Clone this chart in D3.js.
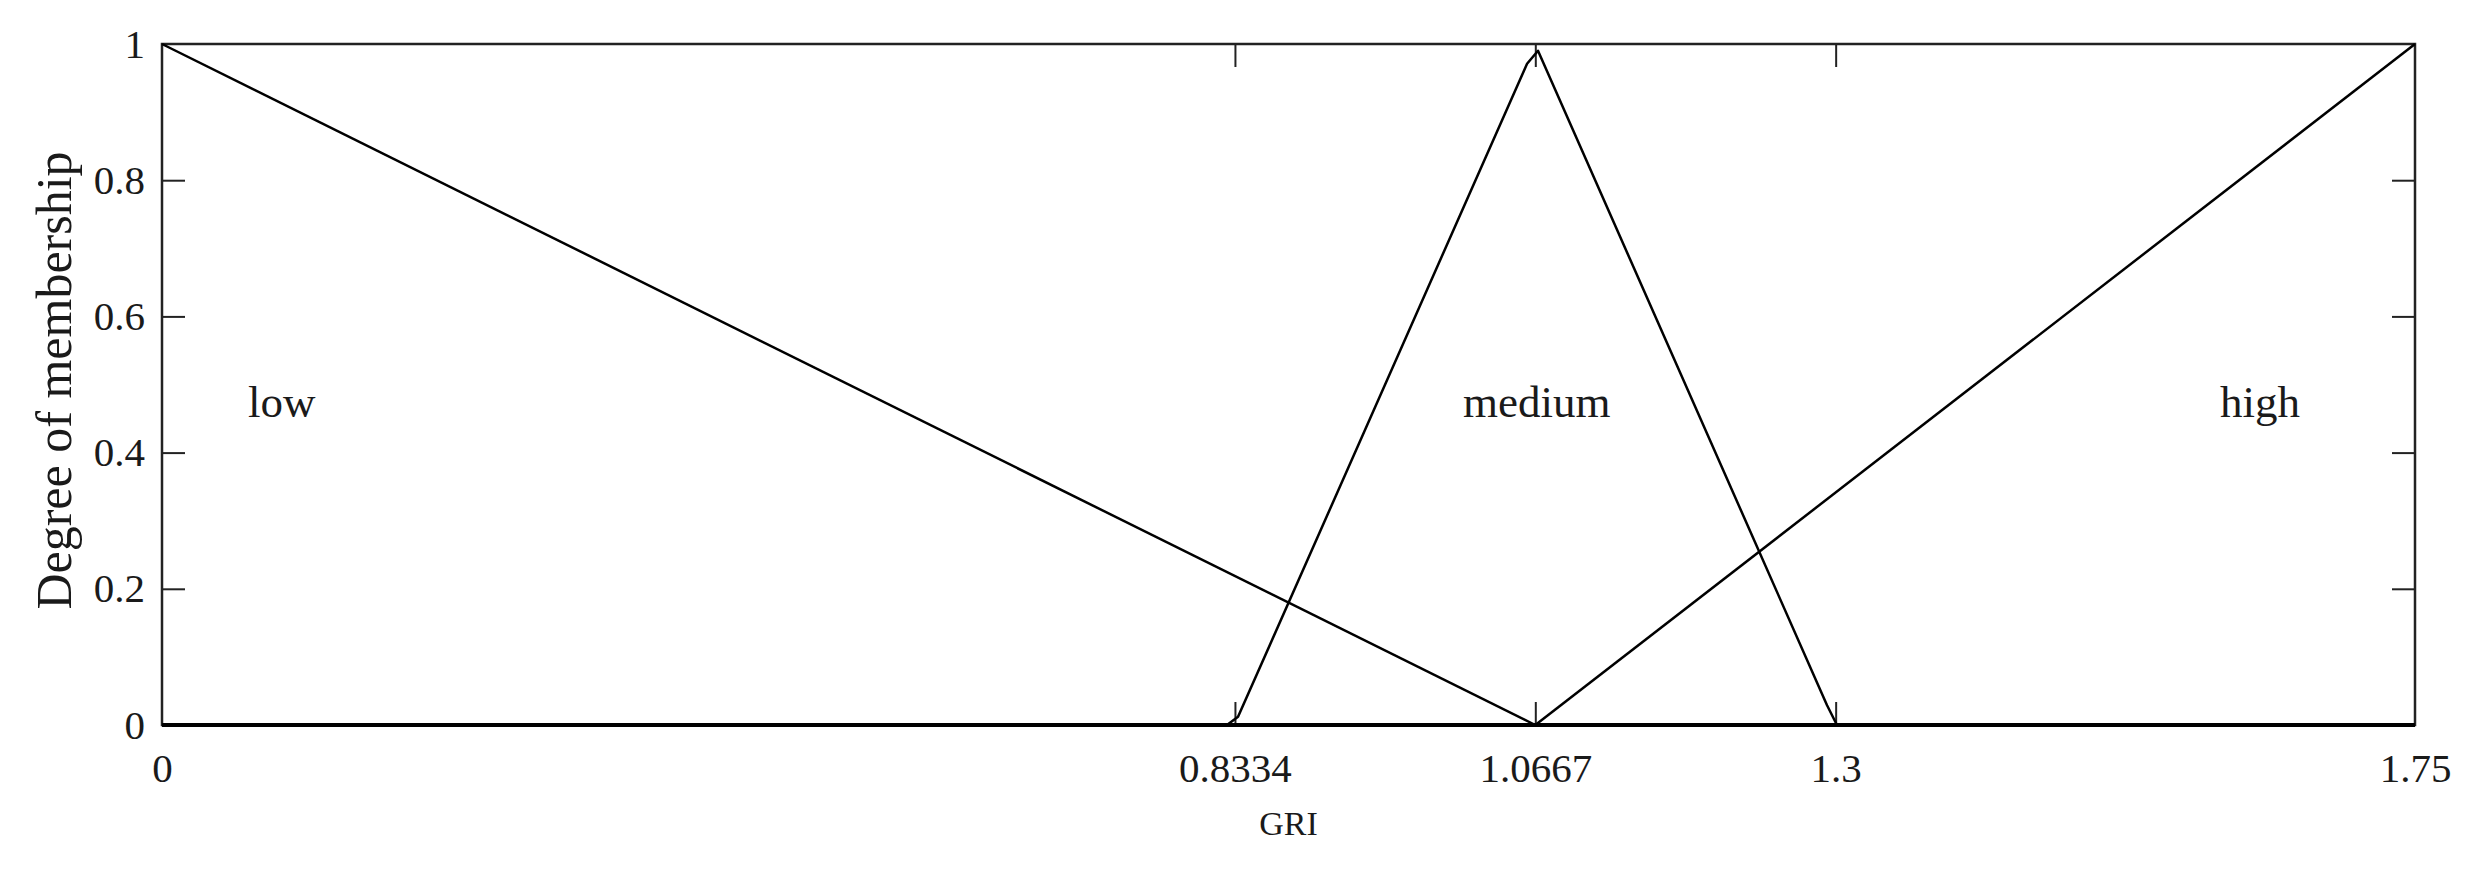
<!DOCTYPE html>
<html>
<head>
<meta charset="utf-8">
<script src="https://cdn.jsdelivr.net/npm/d3@7"></script>
<style>
  body { margin: 0; background: #fff; }
  svg text { font-family: "Liberation Serif", "Times New Roman", serif; fill: #1a1a1a; }
</style>
</head>
<body>
<div id="chart"></div>
<script>
// membership functions (x = GRI, y = degree)
var lowPts = [[0, 1], [1.0667, 0]];
var mediumPts = [[0.8272, 0], [0.8358, 0.012], [1.0603, 0.971], [1.0688, 0.99], [1.2933, 0.029], [1.301, 0]];
var highPts = [[1.0667, 0], [1.75, 1]];

var xTicks = [0, 0.8334, 1.0667, 1.3, 1.75];
var xTickLabels = ["0", "0.8334", "1.0667", "1.3", "1.75"];
var yTicks = [0, 0.2, 0.4, 0.6, 0.8, 1];
var yTickLabels = ["0", "0.2", "0.4", "0.6", "0.8", "1"];

var setNames = ["low", "medium", "high"];
var setLabelX = [0.0668, 1.0106, 1.5986]; // left edge of each label, GRI units
var setLabelY = 0.452;

var W = 2476, H = 873;
var margin = {left: 162, right: 61, top: 44, bottom: 148};
var iw = W - margin.left - margin.right,
    ih = H - margin.top - margin.bottom;

var svg = d3.select("#chart").append("svg")
  .attr("width", W).attr("height", H);

var g = svg.append("g")
  .attr("transform", "translate(" + margin.left + "," + margin.top + ")");

var x = d3.scaleLinear().domain([0, 1.75]).range([0, iw]);
var y = d3.scaleLinear().domain([0, 1]).range([ih, 0]);

var tickLen = 23;

// bottom axis: labels below, ticks pointing inward
var xAxis = d3.axisBottom(x).tickValues(xTicks)
  .tickSize(-tickLen).tickPadding(28)
  .tickFormat(function(d, i) { return xTickLabels[i]; });
var gx = g.append("g").attr("transform", "translate(0," + ih + ")").call(xAxis);
gx.select(".domain").remove();
gx.selectAll("text").style("font-size", "41px");

// left axis
var yAxis = d3.axisLeft(y).tickValues(yTicks)
  .tickSize(-tickLen).tickPadding(17)
  .tickFormat(function(d, i) { return yTickLabels[i]; });
var gy = g.append("g").call(yAxis);
gy.select(".domain").remove();
gy.selectAll("text").style("font-size", "41px");

// top and right ticks, no labels
var gt = g.append("g").call(d3.axisTop(x).tickValues(xTicks).tickSize(-tickLen).tickFormat(""));
gt.select(".domain").remove();
var gr = g.append("g").attr("transform", "translate(" + iw + ",0)")
  .call(d3.axisRight(y).tickValues(yTicks).tickSize(-tickLen).tickFormat(""));
gr.select(".domain").remove();

g.selectAll(".tick line").attr("stroke", "#222").attr("stroke-width", 2);
// skip the ticks sitting on the frame corners
g.selectAll(".tick").filter(function(d) { return d === 0 || d === 1 || d === 1.75; })
  .select("line").remove();

// frame
g.append("rect").attr("x", 0).attr("y", 0).attr("width", iw).attr("height", ih)
  .attr("fill", "none").attr("stroke", "#222").attr("stroke-width", 2.5);
g.append("line").attr("x1", 0).attr("x2", iw).attr("y1", ih).attr("y2", ih)
  .attr("stroke", "#000").attr("stroke-width", 4);

var line = d3.line().x(function(d) { return x(d[0]); }).y(function(d) { return y(d[1]); });

[lowPts, mediumPts, highPts].forEach(function(pts) {
  g.append("path").datum(pts).attr("d", line)
    .attr("fill", "none").attr("stroke", "#000").attr("stroke-width", 2.5)
    .attr("stroke-linejoin", "round");
});

// set names
setNames.forEach(function(name, i) {
  g.append("text").attr("x", x(setLabelX[i])).attr("y", y(setLabelY))
    .style("font-size", "45px").text(name);
});

// axis titles
svg.append("text").attr("x", margin.left + iw / 2).attr("y", 835)
  .attr("text-anchor", "middle").style("font-size", "34px").text("GRI");

svg.append("text")
  .attr("transform", "translate(71," + (margin.top + ih / 2 - 4) + ") rotate(-90)")
  .attr("text-anchor", "middle").style("font-size", "50px").text("Degree of membership");
</script>
</body>
</html>
